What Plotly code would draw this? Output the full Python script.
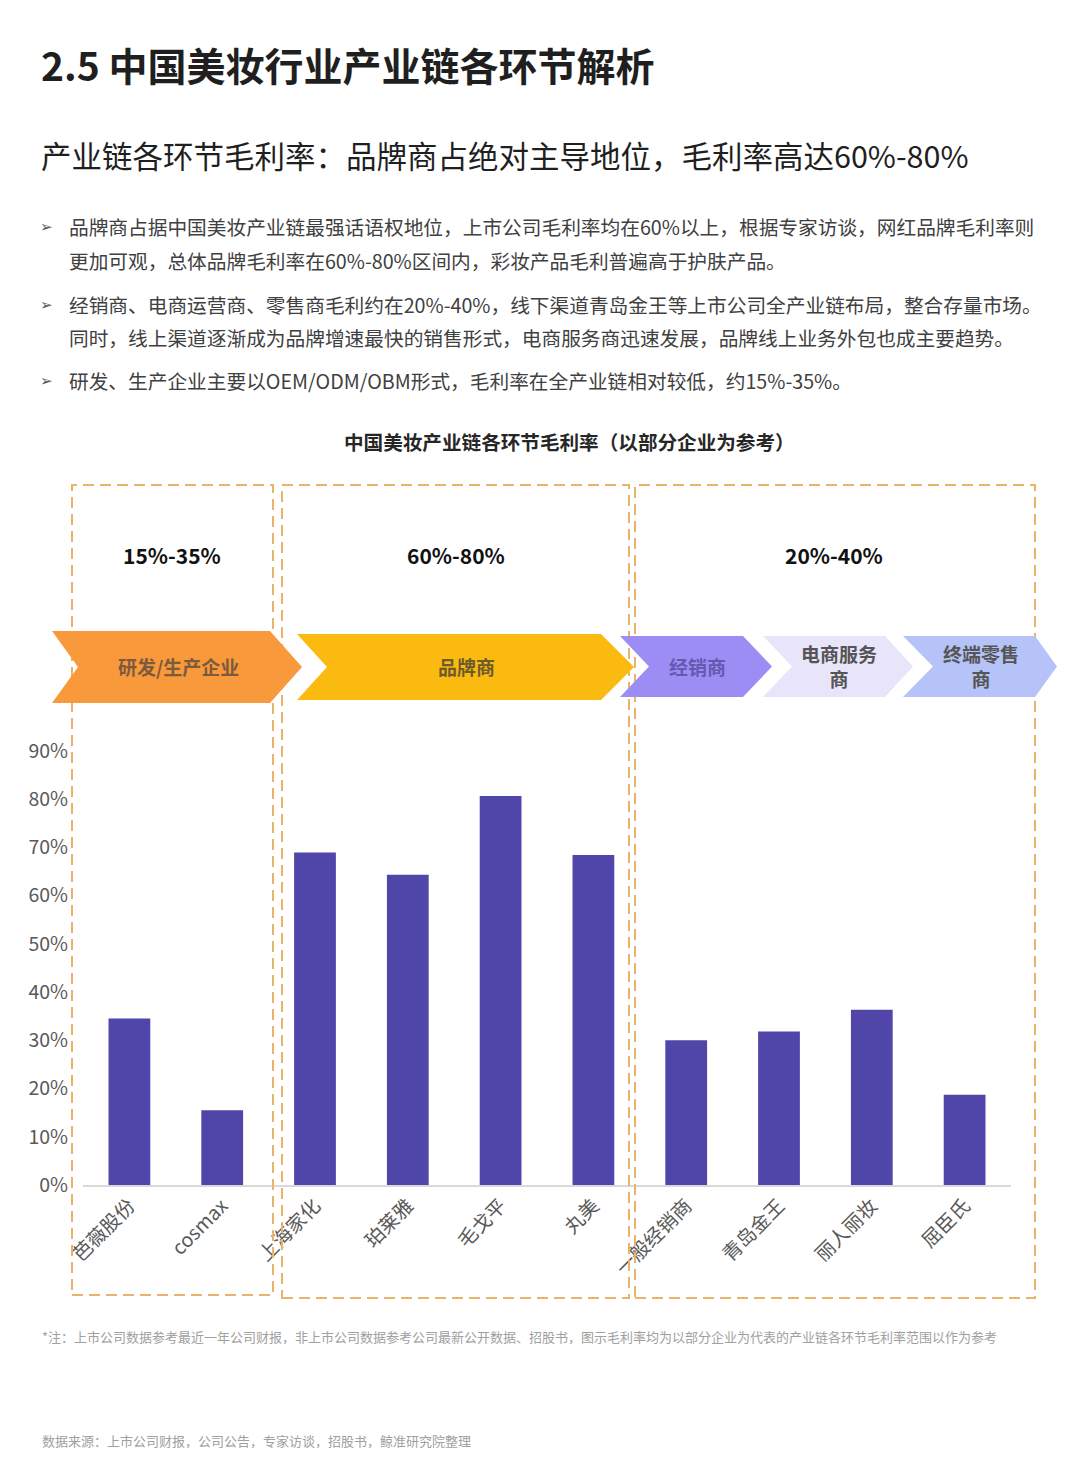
import plotly.graph_objects as go

# page is 1080x1469; the browser adds an 8px body margin, so the figure itself is 16px smaller
PAGE_W, PAGE_H = 1080, 1469
OFF = 8
W, H = PAGE_W - 2 * OFF, PAGE_H - 2 * OFF

# ---------------- data ----------------
companies = ["芭薇股份", "cosmax", "上海家化", "珀莱雅", "毛戈平", "丸美",
             "一般经销商", "青岛金王", "丽人丽妆", "屈臣氏"]
gross_margin = [0.345, 0.155, 0.689, 0.643, 0.806, 0.684,
                0.300, 0.318, 0.363, 0.187]
y_tick_vals = [0, 0.1, 0.2, 0.3, 0.4, 0.5, 0.6, 0.7, 0.8, 0.9]
y_tick_text = ["0%", "10%", "20%", "30%", "40%", "50%", "60%", "70%", "80%", "90%"]
stage_names = ["研发/生产企业", "品牌商", "经销商", "电商服务<br>商", "终端零售<br>商"]
range_labels = ["15%-35%", "60%-80%", "20%-40%"]

title = "2.5 中国美妆行业产业链各环节解析"
subtitle = "产业链各环节毛利率：品牌商占绝对主导地位，毛利率高达60%-80%"
bullets = [
    ["品牌商占据中国美妆产业链最强话语权地位，上市公司毛利率均在60%以上，根据专家访谈，网红品牌毛利率则",
     "更加可观，总体品牌毛利率在60%-80%区间内，彩妆产品毛利普遍高于护肤产品。"],
    ["经销商、电商运营商、零售商毛利约在20%-40%，线下渠道青岛金王等上市公司全产业链布局，整合存量市场。",
     "同时，线上渠道逐渐成为品牌增速最快的销售形式，电商服务商迅速发展，品牌线上业务外包也成主要趋势。"],
    ["研发、生产企业主要以OEM/ODM/OBM形式，毛利率在全产业链相对较低，约15%-35%。"],
]
chart_title = "中国美妆产业链各环节毛利率（以部分企业为参考）"
footnote = "*注：上市公司数据参考最近一年公司财报，非上市公司数据参考公司最新公开数据、招股书，图示毛利率均为以部分企业为代表的产业链各环节毛利率范围以作为参考"
source = "数据来源：上市公司财报，公司公告，专家访谈，招股书，鲸准研究院整理"

# ---------------- helpers ----------------
FONT = "Noto Sans CJK SC, Noto Sans, DejaVu Sans, sans-serif"


def px(x):
    return (x - OFF) / W


def py(y):
    return 1 - (y - OFF) / H


def text(t, x, y, size, color, xanchor="left", family=FONT):
    return dict(text=t, x=px(x), y=py(y), xref="paper", yref="paper",
                xanchor=xanchor, yanchor="middle", showarrow=False,
                font=dict(size=size, color=color, family=family))


fig = go.Figure()
fig.add_trace(go.Bar(
    x=companies, y=gross_margin,
    marker=dict(color="#5045A8", line=dict(width=0)),
    width=0.45, hoverinfo="x+y",
))

ann = []
shapes = []

# header texts
ann.append(text("<b>" + title + "</b>", 39, 64, 39, "#1f1f1f"))
ann.append(text(subtitle, 39, 155, 30.5, "#1f1f1f"))
line_y = [[226, 261], [304, 338], [380]]
for lines, ys in zip(bullets, line_y):
    ann.append(text("➢", 38, ys[0] + 1, 15, "#555555", family="DejaVu Sans"))
    for t, yy in zip(lines, ys):
        ann.append(text(t, 67, yy, 19.7, "#404040"))
ann.append(text("<b>" + chart_title + "</b>", 569, 441, 19.6, "#262626", xanchor="center"))
ann.append(text(footnote, 40, 1336, 13.0, "#a0a0a0"))
ann.append(text(source, 40, 1440, 13, "#a0a0a0"))

# dashed boxes
boxes = [(72, 273, 485, 1295), (282, 629, 485, 1298), (635, 1035, 485, 1298)]
range_x = [172, 456, 834]
for (x0, x1, y0, y1), lbl, cx in zip(boxes, range_labels, range_x):
    shapes.append(dict(type="rect", xref="paper", yref="paper",
                       x0=px(x0), x1=px(x1), y0=py(y1), y1=py(y0),
                       line=dict(color="#E9B468", width=2, dash="11px,6px"),
                       fillcolor="rgba(0,0,0,0)", layer="above"))
    ann.append(text("<b>" + lbl + "</b>", cx, 555, 21, "#111111", xanchor="center"))

# chevrons: left, notch, right corner, tip, top, bottom, fill, text colour, text x
chevrons = [
    (52, 78, 270, 302, 631, 703, "#F8993C", "#7d5a3c", 178),
    (297, 327, 601, 634, 634, 700, "#FBBA10", "#6e5a2a", 466),
    (620, 649, 743, 772, 636, 697, "#9C8DF5", "#6459b0", 697),
    (763, 792, 885, 913, 636, 697, "#E8E5FB", "#555555", 839),
    (903, 933, 1035, 1057, 636, 697, "#B5C3F8", "#555555", 981),
]
for (l, n, rc, tip, top, bot, fill, tc, tx), name in zip(chevrons, stage_names):
    mid = (top + bot) / 2
    path = (f"M {px(l)},{py(top)} L {px(rc)},{py(top)} L {px(tip)},{py(mid)} "
            f"L {px(rc)},{py(bot)} L {px(l)},{py(bot)} L {px(n)},{py(mid)} Z")
    shapes.append(dict(type="path", xref="paper", yref="paper", path=path,
                       fillcolor=fill, line=dict(width=0), layer="above"))
    ann.append(text("<b>" + name + "</b>", tx, 666, 19, tc, xanchor="center"))

fig.update_layout(
    width=W, height=H,
    margin=dict(l=0, r=0, t=0, b=0, autoexpand=False),
    paper_bgcolor="white", plot_bgcolor="white",
    showlegend=False,
    annotations=ann,
    shapes=shapes,
    bargap=0.55,
    xaxis=dict(domain=[px(83), px(1011)], showline=True, linecolor="#D9D9D9", linewidth=1.5,
               showgrid=False, ticks="", tickangle=-45, zeroline=False, automargin=False,
               tickfont=dict(size=19.5, color="#595959", family=FONT)),
    yaxis=dict(domain=[py(1185), py(750.7)], range=[0, 0.9], showline=False, showgrid=False,
               zeroline=False, ticks="", tickvals=y_tick_vals, ticktext=y_tick_text,
               ticklabelstandoff=14, automargin=False,
               tickfont=dict(size=19.5, color="#595959", family=FONT)),
)

fig.write_html("out.html", config={"displayModeBar": False})
